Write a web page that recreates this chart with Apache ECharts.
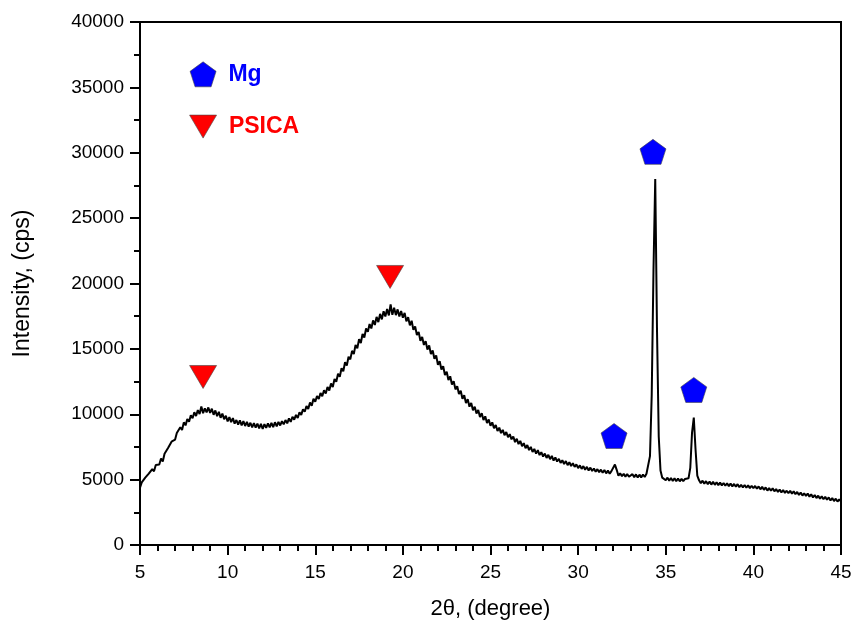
<!DOCTYPE html>
<html>
<head>
<meta charset="utf-8">
<script src="https://cdn.jsdelivr.net/npm/echarts@6/dist/echarts.min.js"></script>
<style>
  html, body { margin: 0; padding: 0; background: #fff; }
  #chart { width: 855px; height: 620px; }
</style>
</head>
<body>
<div id="chart"></div>
<script>
// XRD scan: 2θ from 5° to 45° in 0.1° steps, intensity in cps
const scanStart = 5;
const scanStep = 0.1;
const intensity = [
  4380, 4790, 4700, 5150, 5020, 5460, 5330, 5810, 5640, 6120,
  6240, 6150, 6610, 6390, 6980, 6850, 7420, 7290, 7900, 7810,
  8050, 8560, 8420, 9010, 8790, 9380, 9150, 9640, 9420, 9930,
  9700, 10150, 9860, 10320, 10020, 10600, 10080, 10450, 10150, 10520,
  10100, 10420, 9960, 10290, 9850, 10180, 9730, 10050, 9620, 9880,
  9450, 9780, 9390, 9700, 9280, 9560, 9210, 9530, 9150, 9470,
  9100, 9420, 9060, 9350, 8990, 9330, 8970, 9290, 8920, 9260,
  8870, 9250, 8960, 9310, 8990, 9340, 9020, 9390, 9070, 9420,
  9140, 9470, 9230, 9560, 9300, 9680, 9420, 9810, 9590, 9950,
  9720, 10140, 9950, 10380, 10190, 10620, 10410, 10900, 10650, 11180,
  10950, 11400, 11160, 11620, 11380, 11830, 11590, 12080, 11820, 12350,
  12080, 12690, 12480, 13100, 12870, 13520, 13280, 13980, 13720, 14400,
  14200, 14850, 14600, 15310, 15040, 15750, 15450, 16150, 15860, 16560,
  16300, 16900, 16560, 17180, 16830, 17450, 17050, 17680, 17260, 17880,
  17480, 18050, 17560, 18400, 17600, 18150, 17580, 18020, 17480, 17900,
  17380, 17750, 17100, 17420, 16800, 17150, 16450, 16720, 16050, 16300,
  15620, 15920, 15300, 15590, 14950, 15260, 14600, 14880, 14250, 14500,
  13780, 14050, 13420, 13680, 13000, 13250, 12620, 12900, 12280, 12520,
  11900, 12150, 11550, 11800, 11180, 11450, 10850, 11150, 10580, 10860,
  10300, 10580, 10060, 10320, 9790, 10080, 9560, 9840, 9330, 9600,
  9120, 9380, 8930, 9180, 8720, 8980, 8560, 8800, 8400, 8640,
  8240, 8480, 8080, 8300, 7870, 8120, 7720, 7960, 7560, 7790,
  7400, 7640, 7260, 7500, 7110, 7350, 6990, 7250, 6880, 7100,
  6760, 6990, 6660, 6900, 6560, 6810, 6460, 6700, 6380, 6590,
  6280, 6480, 6190, 6420, 6110, 6330, 6040, 6260, 5970, 6170,
  5880, 6090, 5820, 6030, 5760, 5980, 5700, 5920, 5660, 5850,
  5600, 5800, 5570, 5760, 5520, 5730, 5480, 5690, 5450, 5650,
  5650, 6150, 5750, 5300, 5480, 5260, 5450, 5230, 5430, 5220,
  5200, 5420, 5180, 5400, 5160, 5380, 5170, 5390, 5200, 5450,
  5600, 6800, 11500, 21000, 28000, 16500, 8300, 5700, 5150, 5050,
  4950, 5150, 4920, 5120, 4900, 5100, 4880, 5090, 4870, 5060,
  4880, 5050, 4950, 5100, 5900, 8600, 9750, 7300, 5300, 4950,
  4720, 4920, 4690, 4880, 4650, 4850, 4620, 4830, 4600, 4800,
  4580, 4770, 4560, 4740, 4530, 4720, 4500, 4700, 4480, 4670,
  4460, 4650, 4420, 4610, 4400, 4590, 4380, 4560, 4350, 4530,
  4340, 4520, 4300, 4480, 4260, 4450, 4220, 4400, 4160, 4350,
  4150, 4330, 4110, 4280, 4060, 4240, 4020, 4200, 3980, 4150,
  3970, 4150, 3930, 4100, 3880, 4060, 3830, 4010, 3780, 3960,
  3750, 3930, 3700, 3880, 3640, 3820, 3590, 3770, 3540, 3720,
  3500, 3680, 3460, 3640, 3400, 3590, 3360, 3540, 3320, 3480,
  3350
];

// Phase markers placed above their reflections
const mgMarks = [[32.05, 8340], [34.27, 30070], [36.6, 11860]];
const psicaMarks = [[8.6, 12850], [19.27, 20500]];

// Key entries drawn inside the plot
const keyMg = [[8.6, 36000]];
const keyPsica = [[8.6, 32000]];

const xTicks = { min: 5, max: 45, interval: 5 };
const yTicks = { min: 0, max: 40000, interval: 5000 };

const FONT = "'Liberation Sans', Arial, sans-serif";
const pentagon = 'path://M50,0 L97.6,34.5 L79.4,90.5 L20.6,90.5 L2.4,34.5 Z';
const downTriangle = 'path://M0,0 L100,0 L50,86 Z';

const scan = intensity.map((v, i) => [+(scanStart + i * scanStep).toFixed(1), v]);

const chart = echarts.init(document.getElementById('chart'), null, { renderer: 'canvas' });

const axisCommon = {
  axisLine: { show: true, onZero: false, lineStyle: { color: '#000', width: 2 } },
  axisTick: { show: true, inside: false, length: 10, lineStyle: { color: '#000', width: 2 } },
  minorTick: { show: true, length: 6, lineStyle: { color: '#000', width: 2 } },
  splitLine: { show: false },
  axisLabel: { color: '#000', fontSize: 19, fontFamily: FONT, formatter: v => String(v) },
  nameTextStyle: { color: '#000', fontSize: 22, fontFamily: FONT }
};

const markStyle = (color) => ({ color: color, opacity: 1, borderColor: '#444', borderWidth: 0.6 });

chart.setOption({
  backgroundColor: '#fff',
  animation: false,
  grid: {
    left: 140, right: 14, top: 22, bottom: 75,
    containLabel: false,
    outerBoundsMode: 'none',
    show: true, borderColor: '#000', borderWidth: 2, backgroundColor: 'transparent'
  },
  xAxis: Object.assign({}, axisCommon, {
    type: 'value',
    min: xTicks.min, max: xTicks.max, interval: xTicks.interval,
    minorTick: Object.assign({}, axisCommon.minorTick, { splitNumber: 5 }),
    axisLabel: Object.assign({}, axisCommon.axisLabel, { margin: 18 }),
    name: '2θ, (degree)',
    nameLocation: 'middle',
    nameGap: 53
  }),
  yAxis: Object.assign({}, axisCommon, {
    type: 'value',
    min: yTicks.min, max: yTicks.max, interval: yTicks.interval,
    minorTick: Object.assign({}, axisCommon.minorTick, { splitNumber: 2 }),
    axisLabel: Object.assign({}, axisCommon.axisLabel, { margin: 16 }),
    name: 'Intensity, (cps)',
    nameLocation: 'middle',
    nameGap: 106,
    nameTextStyle: { color: '#000', fontSize: 23, fontFamily: FONT }
  }),
  series: [
    {
      type: 'line',
      data: scan,
      showSymbol: false,
      symbol: 'none',
      lineStyle: { color: '#000', width: 2 },
      z: 2
    },
    {
      type: 'scatter',
      data: mgMarks,
      symbol: pentagon,
      symbolSize: [26, 25],
      itemStyle: markStyle('#0000ff'),
      z: 3
    },
    {
      type: 'scatter',
      data: psicaMarks,
      symbol: downTriangle,
      symbolSize: [27, 23],
      itemStyle: markStyle('#ff0000'),
      z: 3
    },
    {
      type: 'scatter',
      data: keyMg,
      symbol: pentagon,
      symbolSize: [26, 25],
      itemStyle: markStyle('#0000ff'),
      label: {
        show: true, position: 'right', distance: 12, formatter: 'Mg',
        color: '#0000ff', fontSize: 23, fontWeight: 'bold', fontFamily: FONT
      },
      z: 3
    },
    {
      type: 'scatter',
      data: keyPsica,
      symbol: downTriangle,
      symbolSize: [27, 23],
      itemStyle: markStyle('#ff0000'),
      label: {
        show: true, position: 'right', distance: 12, formatter: 'PSICA',
        color: '#ff0000', fontSize: 23, fontWeight: 'bold', fontFamily: FONT
      },
      z: 3
    }
  ]
});
</script>
</body>
</html>
